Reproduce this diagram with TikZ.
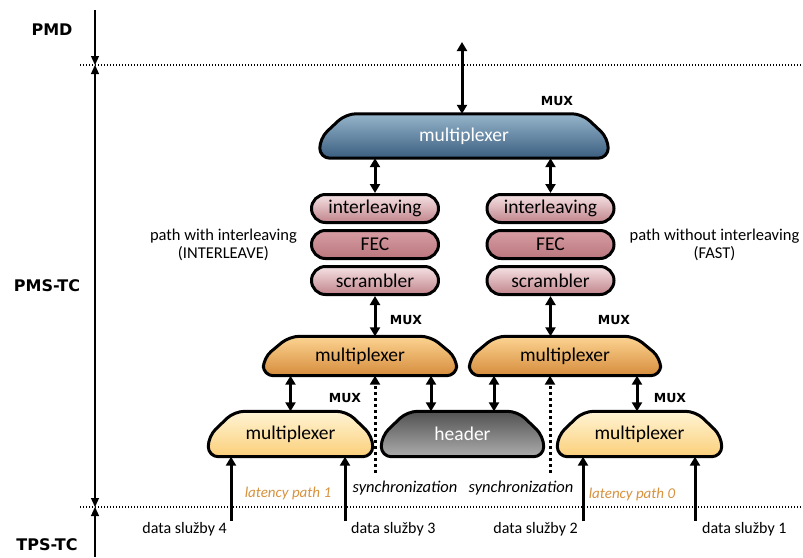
\documentclass[tikz,border=0pt]{standalone}
\usepackage{fontspec}
\setmainfont{Carlito}
\newfontfamily\layerfont{DejaVu Sans}
\usetikzlibrary{positioning,calc,arrows.meta,backgrounds}

\definecolor{bluetop}{RGB}{150,181,203}
\definecolor{bluebot}{RGB}{58,94,128}
\definecolor{pinktop}{RGB}{246,226,228}
\definecolor{pinkbot}{RGB}{192,132,139}
\definecolor{fectop}{RGB}{214,158,164}
\definecolor{fecbot}{RGB}{186,118,125}
\definecolor{oratop}{RGB}{252,212,146}
\definecolor{orabot}{RGB}{214,140,60}
\definecolor{yeltop}{RGB}{255,244,212}
\definecolor{yelbot}{RGB}{251,207,122}
\definecolor{hdrtop}{RGB}{82,82,82}
\definecolor{hdrbot}{RGB}{172,172,172}
\definecolor{latency}{RGB}{214,146,62}

\tikzset{
  boxline/.style={draw=black, line width=3pt, line join=round},
  boxfont/.style={font=\fontsize{19.5}{22}\selectfont},
  muxnode/.style={boxfont, inner sep=0pt},
  pill/.style={boxline, boxfont, rounded corners=14pt, minimum width=127pt,
    minimum height=28pt, inner sep=0pt, top color=pinktop, bottom color=pinkbot},
  link/.style={line width=3pt, {Triangle[length=9pt,width=10pt]}-{Triangle[length=9pt,width=10pt]}},
  feed/.style={line width=3pt, -{Triangle[length=9pt,width=10pt]}},
  syncline/.style={line width=3pt, dash pattern=on 3pt off 3pt, -{Triangle[length=9pt,width=10pt]}},
  axis/.style={line width=1.2pt},
  axtip/.style={line width=1.2pt, -{Triangle[length=9pt,width=8pt]}},
  boundary/.style={line width=1.2pt, dash pattern=on 1.4pt off 1.6pt},
  muxlbl/.style={font=\layerfont\bfseries\fontsize{12.5}{14}\selectfont},
  layer/.style={font=\layerfont\bfseries\fontsize{16}{18}\selectfont},
  lbl/.style={font=\fontsize{16}{18}\selectfont, inner sep=1pt},
  pathlbl/.style={font=\fontsize{16.5}{18}\selectfont, inner sep=1pt, align=center},
  synclbl/.style={font=\fontsize{16.5}{19}\selectfont\itshape},
  latlbl/.style={font=\fontsize{15}{17}\selectfont\itshape, text=latency},
}

% outline of a multiplexer: chamfered top, rounded bottom
\newcommand\muxshape[3]{%
  \begin{scope}[on background layer]
    \draw[boxline, rounded corners=10pt, top color=#2, bottom color=#3]
      (#1.north) -- ([xshift=-26pt]#1.north east)
      -- ($(#1.north east)!0.55!(#1.south east)$) -- (#1.south east)
      -- (#1.south west) -- ($(#1.north west)!0.55!(#1.south west)$)
      -- ([xshift=26pt]#1.north west) -- cycle;
  \end{scope}}

\begin{document}
\begin{tikzpicture}[x=1pt,y=1pt]
\useasboundingbox (0,0) rectangle (803,-557);

% layers
\coordinate (axtop) at (95,-10);
\coordinate (axpmd) at (95,-65);
\coordinate (axtps) at (95,-507);
\coordinate (axbot) at (95,-557);

\draw[boundary] (80,-65) -- (803,-65);
\draw[boundary] (80,-507) -- (803,-507);
\draw[axtip] (axtop) -- (axpmd);
\draw[axis, {Triangle[length=9pt,width=8pt]}-{Triangle[length=9pt,width=8pt]}] (axpmd) -- (axtps);
\draw[axtip] (axbot) -- (axtps);

\node[layer] (pmd) at (52,-30) {PMD};
\node[layer] (pms) at (47,-286) {PMS-TC};
\node[layer] (tps) at (47,-545) {TPS-TC};

% multiplexers
\node[muxnode, minimum width=288pt, minimum height=44pt, text=white] (muxtop) at (464,-136) {multiplexer};
\node[muxnode, minimum width=193pt, minimum height=39pt] (muxil) at (360,-356) {multiplexer};
\node[muxnode, minimum width=191pt, minimum height=39pt] (muxfa) at (565,-356) {multiplexer};
\node[muxnode, minimum width=164pt, minimum height=45pt] (muxl) at (290.5,-434) {multiplexer};
\node[muxnode, minimum width=162pt, minimum height=45pt, text=white] (hdr) at (462.5,-434) {header};
\node[muxnode, minimum width=164pt, minimum height=45pt] (muxr) at (639.5,-434) {multiplexer};

\muxshape{muxtop}{bluetop}{bluebot}
\muxshape{muxil}{oratop}{orabot}
\muxshape{muxfa}{oratop}{orabot}
\muxshape{muxl}{yeltop}{yelbot}
\muxshape{hdr}{hdrtop}{hdrbot}
\muxshape{muxr}{yeltop}{yelbot}

\node[muxlbl] (mx0) at (557,-101) {MUX};
\node[muxlbl] (mx1) at (406,-320) {MUX};
\node[muxlbl] (mx2) at (614,-320) {MUX};
\node[muxlbl] (mx3) at (345,-398) {MUX};
\node[muxlbl] (mx4) at (670,-398) {MUX};

% both paths
\node[pill] (il1) at (375,-208.5) {interleaving};
\node[pill, below=5pt of il1, top color=fectop, bottom color=fecbot] (fec1) {FEC};
\node[pill, below=5pt of fec1] (scr1) {scrambler};
\node[pill] (il2) at (550.5,-208.5) {interleaving};
\node[pill, below=5pt of il2, top color=fectop, bottom color=fecbot] (fec2) {FEC};
\node[pill, below=5pt of fec2] (scr2) {scrambler};

\node[pathlbl, left=12pt of fec1] (pil) {path with interleaving\\(INTERLEAVE)};
\node[pathlbl, right=13pt of fec2] (pfa) {path without interleaving\\(FAST)};

% connections
\coordinate (pmdin) at (462,-42);
\draw[link] (pmdin) -- (pmdin |- muxtop.north);
\draw[link] (muxtop.south -| il1.north) -- (il1.north);
\draw[link] (muxtop.south -| il2.north) -- (il2.north);
\draw[link] (scr1.south) -- (scr1.south |- muxil.north);
\draw[link] (scr2.south) -- (scr2.south |- muxfa.north);
\draw[link] (muxil.south -| muxl.north) -- (muxl.north);
\draw[link] (muxil.south -| 431,0) -- (hdr.north -| 431,0);
\draw[link] (muxfa.south -| 494,0) -- (hdr.north -| 494,0);
\draw[link] (muxfa.south -| 637,0) -- (muxr.north -| 637,0);

\coordinate (sync1) at (375,-473);
\coordinate (sync2) at (550,-473);
\draw[syncline] (sync1) -- (sync1 |- muxil.south);
\draw[syncline] (sync2) -- (sync2 |- muxfa.south);
\node[synclbl] (sy1) at (405,-488) {synchronization};
\node[synclbl] (sy2) at (521,-488) {synchronization};

% service data
\coordinate (in4) at (231,-521);
\coordinate (in3) at (345,-521);
\coordinate (in2) at (583,-521);
\coordinate (in1) at (695,-521);
\draw[feed] (in4) -- (in4 |- muxl.south);
\draw[feed] (in3) -- (in3 |- muxl.south);
\draw[feed] (in2) -- (in2 |- muxr.south);
\draw[feed] (in1) -- (in1 |- muxr.south);

\node[lbl, anchor=north east] (d4) at ([xshift=-3pt]in4) {data služby 4};
\node[lbl, anchor=north west] (d3) at ([xshift=5pt]in3) {data služby 3};
\node[lbl, anchor=north east] (d2) at ([xshift=-4pt]in2) {data služby 2};
\node[lbl, anchor=north west] (d1) at ([xshift=6pt]in1) {data služby 1};

\node[latlbl] (lat1) at (288,-493) {latency path 1};
\node[latlbl] (lat0) at (632,-494) {latency path 0};

\end{tikzpicture}
\end{document}
